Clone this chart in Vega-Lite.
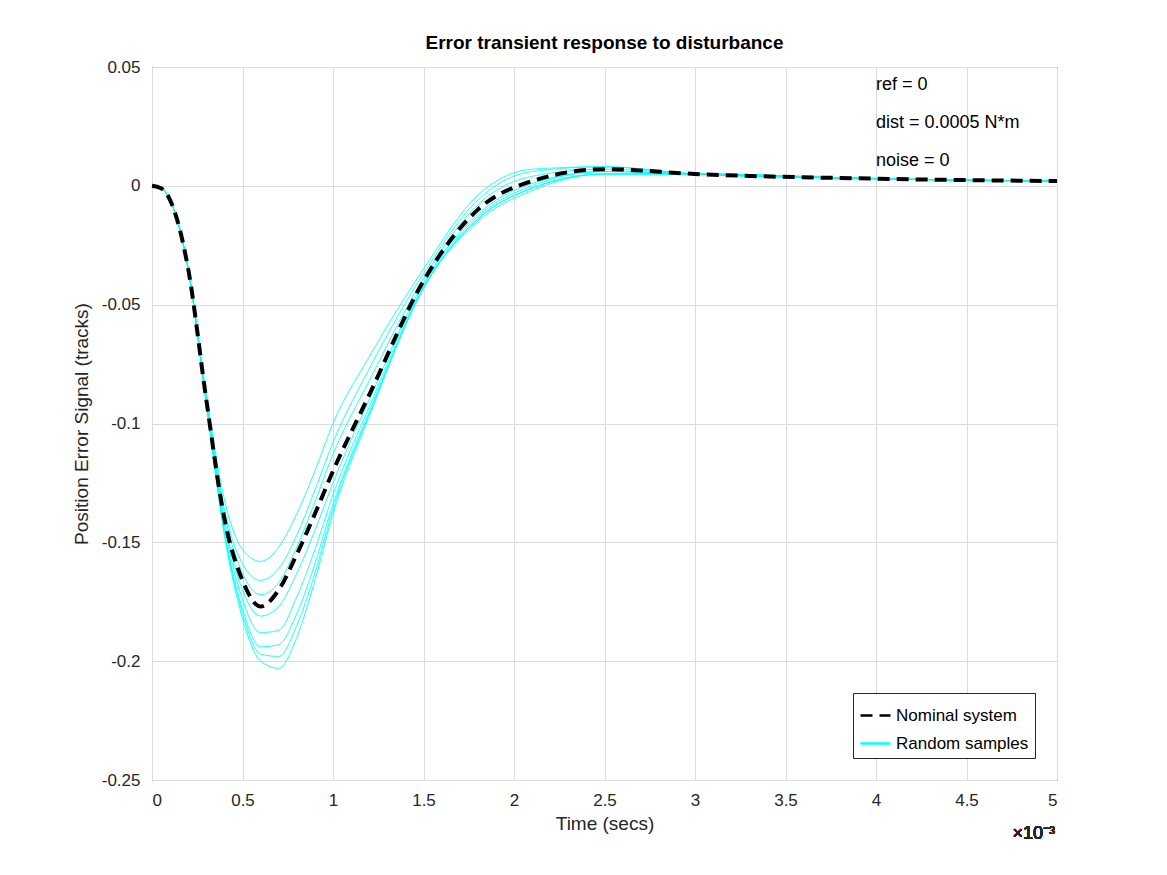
{
  "$schema": "https://vega.github.io/schema/vega-lite/v6.json",
  "width": 905,
  "height": 713,
  "autosize": "none",
  "padding": {"left": 152, "top": 67, "right": 110, "bottom": 95},
  "background": "#ffffff",
  "title": {"text": "Error transient response to disturbance", "font": "Liberation Sans", "fontSize": 19, "fontWeight": "bold", "color": "#000000", "offset": 5},
  "config": {
    "font": "Liberation Sans",
    "view": {"stroke": "#262626", "strokeWidth": 1},
    "axis": {"labelFontSize": 17, "titleFontSize": 19, "titleFontWeight": "normal", "labelColor": "#262626", "titleColor": "#262626", "gridColor": "#dcdcdc", "domain": false, "ticks": false, "labelPadding": 12}
  },
  "data": {"values": [
    {"t": 0, "n": 0, "s1": 0, "s2": 0, "s3": 0, "s4": 0, "s5": 0, "s6": 0, "s7": 0, "s8": 0},
    {"t": 0.05, "n": -0.001, "s1": -0.001, "s2": -0.001, "s3": -0.001, "s4": -0.001, "s5": -0.001, "s6": -0.001, "s7": -0.001, "s8": -0.001},
    {"t": 0.1, "n": -0.006, "s1": -0.006, "s2": -0.006, "s3": -0.006, "s4": -0.006, "s5": -0.006, "s6": -0.006, "s7": -0.006, "s8": -0.006},
    {"t": 0.2, "n": -0.035, "s1": -0.035, "s2": -0.035, "s3": -0.035, "s4": -0.035, "s5": -0.035, "s6": -0.035, "s7": -0.035, "s8": -0.035},
    {"t": 0.3, "n": -0.09, "s1": -0.088, "s2": -0.089, "s3": -0.09, "s4": -0.09, "s5": -0.091, "s6": -0.091, "s7": -0.092, "s8": -0.091},
    {"t": 0.4, "n": -0.14, "s1": -0.132, "s2": -0.136, "s3": -0.138, "s4": -0.141, "s5": -0.143, "s6": -0.145, "s7": -0.147, "s8": -0.146},
    {"t": 0.5, "n": -0.166, "s1": -0.153, "s2": -0.159, "s3": -0.163, "s4": -0.17, "s5": -0.174, "s6": -0.178, "s7": -0.182, "s8": -0.18},
    {"t": 0.6, "n": -0.177, "s1": -0.158, "s2": -0.166, "s3": -0.172, "s4": -0.181, "s5": -0.188, "s6": -0.194, "s7": -0.2, "s8": -0.197},
    {"t": 0.7, "n": -0.17, "s1": -0.152, "s2": -0.161, "s3": -0.167, "s4": -0.177, "s5": -0.187, "s6": -0.193, "s7": -0.203, "s8": -0.198},
    {"t": 0.8, "n": -0.155, "s1": -0.138, "s2": -0.147, "s3": -0.152, "s4": -0.163, "s5": -0.173, "s6": -0.18, "s7": -0.19, "s8": -0.185},
    {"t": 0.9, "n": -0.138, "s1": -0.12, "s2": -0.128, "s3": -0.133, "s4": -0.145, "s5": -0.153, "s6": -0.159, "s7": -0.166, "s8": -0.163},
    {"t": 1.0, "n": -0.12, "s1": -0.1, "s2": -0.108, "s3": -0.113, "s4": -0.125, "s5": -0.13, "s6": -0.134, "s7": -0.138, "s8": -0.136},
    {"t": 1.2, "n": -0.088, "s1": -0.072, "s2": -0.077, "s3": -0.082, "s4": -0.09, "s5": -0.093, "s6": -0.095, "s7": -0.097, "s8": -0.096},
    {"t": 1.5, "n": -0.04, "s1": -0.035, "s2": -0.037, "s3": -0.039, "s4": -0.041, "s5": -0.042, "s6": -0.043, "s7": -0.043, "s8": -0.043},
    {"t": 1.8, "n": -0.01, "s1": -0.004, "s2": -0.006, "s3": -0.008, "s4": -0.012, "s5": -0.013, "s6": -0.014, "s7": -0.015, "s8": -0.014},
    {"t": 2.1, "n": 0.002, "s1": 0.007, "s2": 0.006, "s3": 0.004, "s4": 0.001, "s5": 0.0, "s6": -0.001, "s7": -0.002, "s8": -0.001},
    {"t": 2.5, "n": 0.007, "s1": 0.008, "s2": 0.008, "s3": 0.007, "s4": 0.006, "s5": 0.006, "s6": 0.005, "s7": 0.005, "s8": 0.005},
    {"t": 3, "n": 0.005, "s1": 0.005, "s2": 0.005, "s3": 0.005, "s4": 0.005, "s5": 0.005, "s6": 0.005, "s7": 0.005, "s8": 0.005},
    {"t": 4, "n": 0.003, "s1": 0.003, "s2": 0.003, "s3": 0.003, "s4": 0.003, "s5": 0.003, "s6": 0.003, "s7": 0.003, "s8": 0.003},
    {"t": 5, "n": 0.002, "s1": 0.002, "s2": 0.002, "s3": 0.002, "s4": 0.002, "s5": 0.002, "s6": 0.002, "s7": 0.002, "s8": 0.002}
  ]},
  "layer": [
    {
      "transform": [{"fold": ["s1", "s2", "s3", "s4", "s5", "s6", "s7", "s8"], "as": ["sample", "val"]}],
      "mark": {"type": "line", "interpolate": "monotone", "strokeWidth": 1, "clip": true},
      "encoding": {
        "x": {"field": "t", "type": "quantitative", "scale": {"domain": [0, 5], "nice": false}, "axis": {"title": "Time (secs)", "values": [0, 0.5, 1, 1.5, 2, 2.5, 3, 3.5, 4, 4.5, 5], "format": "~g", "titlePadding": 6}},
        "y": {"field": "val", "type": "quantitative", "scale": {"domain": [-0.25, 0.05], "nice": false}, "axis": {"title": "Position Error Signal (tracks)", "values": [-0.25, -0.2, -0.15, -0.1, -0.05, 0, 0.05], "labelExpr": "replace(format(datum.value, '~g'), '−', '-')", "titlePadding": 10}},
        "detail": {"field": "sample"},
        "color": {"datum": "Random samples", "scale": {"domain": ["Nominal system", "Random samples"], "range": ["#000000", "#00ffff"]}, "legend": {"title": null, "orient": "bottom-right", "fillColor": "#ffffff", "strokeColor": "#262626", "padding": 6, "offset": 22, "labelFontSize": 17, "labelColor": "#000000", "symbolType": "stroke", "symbolSize": 900, "symbolStrokeWidth": 2.5, "rowPadding": 3}},
        "strokeDash": {"datum": "Random samples", "scale": {"domain": ["Nominal system", "Random samples"], "range": [[12, 7], [1, 0]]}}
      }
    },
    {
      "mark": {"type": "line", "interpolate": "monotone", "strokeWidth": 4},
      "encoding": {
        "x": {"field": "t", "type": "quantitative"},
        "y": {"field": "n", "type": "quantitative"},
        "color": {"datum": "Nominal system"},
        "strokeDash": {"datum": "Nominal system"}
      }
    },
    {
      "data": {"values": [
        {"t": 4.0, "y": 0.0425, "label": "ref = 0"},
        {"t": 4.0, "y": 0.0265, "label": "dist = 0.0005 N*m"},
        {"t": 4.0, "y": 0.0105, "label": "noise = 0"}
      ]},
      "mark": {"type": "text", "align": "left", "fontSize": 18, "color": "#000000"},
      "encoding": {
        "x": {"field": "t", "type": "quantitative"},
        "y": {"field": "y", "type": "quantitative"},
        "text": {"field": "label"}
      }
    },
    {
      "mark": {"type": "text", "text": "×10⁻³", "align": "right", "baseline": "top", "dy": 45, "dx": -2, "fontSize": 18, "color": "#262626"},
      "encoding": {"x": {"datum": 5}, "y": {"datum": -0.25}}
    }
  ]
}
